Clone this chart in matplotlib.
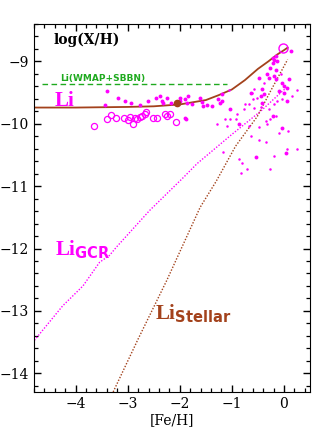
import matplotlib.pyplot as plt

plt.rcParams['font.family'] = 'DejaVu Serif'
plt.rcParams['mathtext.fontset'] = 'custom'
plt.rcParams['mathtext.bf'] = 'Liberation Serif:bold'
plt.rcParams['mathtext.sf'] = 'DejaVu Sans:bold'

# curvas do modelo
total_fe = [-4.8, -4.0, -3.0, -2.5, -2.0, -1.5, -1.25, -1.0, -0.75, -0.5, -0.3, -0.13, 0.0, 0.07]
total_li = [-9.74, -9.74, -9.73, -9.72, -9.69, -9.62, -9.54, -9.45, -9.30, -9.12, -9.00, -8.89, -8.82, -8.78]

gcr_fe = [-4.83, -4.25, -3.86, -3.54, -3.35, -3.22, -2.58, -1.93, -1.67, -1.0, -0.45, -0.06, 0.05]
gcr_li = [-13.51, -12.92, -12.60, -12.22, -12.11, -11.98, -11.39, -10.86, -10.64, -10.17, -9.80, -9.50, -9.42]

stellar_fe = [-3.28, -2.8, -2.25, -1.61, -1.30, -0.93, -0.51, -0.26, 0.07]
stellar_li = [-14.30, -13.45, -12.51, -11.34, -10.92, -10.36, -9.88, -9.48, -8.97]

# WMAP + SBBN
wmap_fe = [-4.64, -1.09]
wmap_li = [-9.37, -9.37]

# estrelas do halo (circulos abertos)
halo_open_fe = [-3.64, -3.40, -3.32, -3.22, -3.08, -3.00, -2.95, -2.90, -2.87, -2.77,
                -2.72, -2.67, -2.64, -2.51, -2.43, -2.29, -2.24, -2.18, -2.07, -2.82]
halo_open_li = [-10.03, -9.93, -9.86, -9.91, -9.91, -9.94, -9.89, -10.00, -9.91, -9.89,
                -9.87, -9.85, -9.81, -9.91, -9.90, -9.85, -9.87, -9.84, -9.97, -9.92]

# estrelas do halo (pontos cheios)
halo_fe = [-3.39, -3.43, -3.19, -3.06, -2.93, -2.77, -2.61, -2.46, -2.38, -2.35,
           -2.32, -2.25, -2.16, -2.00, -1.90, -1.87, -1.90, -1.88, -1.62, -1.58,
           -1.55, -1.47, -1.38, -1.26, -1.22, -1.04, -1.84, -1.77, -2.00, -1.19, -1.19]
halo_li = [-9.48, -9.70, -9.59, -9.64, -9.66, -9.70, -9.64, -9.59, -9.56, -9.64,
           -9.66, -9.59, -9.66, -9.64, -9.61, -9.66, -9.90, -9.93, -9.59, -9.65,
           -9.72, -9.70, -9.71, -9.61, -9.66, -9.77, -9.56, -9.69, -9.59, -9.64, -9.52]

# estrelas do disco
disk_fe = [-0.22, -0.19, -0.16, -0.21, -0.26, -0.16, -0.13, -0.32, -0.29, -0.19,
           -0.16, 0.10, -0.03, 0.00, 0.06, -0.10, 0.00, -0.42, -0.48, -0.39,
           0.13, -0.53, -0.03, 0.03, -0.87, -0.22, -0.64, -0.45, -0.42, 0.06]
disk_li = [-8.94, -8.98, -8.92, -9.02, -9.10, -9.13, -9.00, -9.21, -9.26, -9.24,
           -9.29, -9.29, -9.34, -9.40, -9.42, -9.48, -9.50, -9.45, -9.26, -9.53,
           -8.84, -10.54, -10.06, -10.47, -10.01, -9.88, -9.50, -9.56, -9.66, -9.64]

disk_small_fe = [-0.58, -0.61, 0.25, -1.06, -0.51, -0.74, -0.68, -0.77, -0.58, -0.45,
                 -0.29, -0.19, -0.13, -0.04, -1.03, -0.16, -0.26, -1.13, -1.03, -0.93,
                 -1.09, -0.68, -0.48, -0.32, -0.10, 0.07, -0.64, -0.48, -0.35, 0.26,
                 -1.29, -1.17, -0.87, -0.80, -0.71, -0.82, -0.27, -0.20, 0.05, -0.39,
                 -0.90, -0.60, -0.05, 0.15, -0.35]
disk_small_li = [-9.45, -9.50, -9.46, -9.46, -9.58, -9.69, -9.69, -9.77, -9.74, -9.73,
                 -9.77, -9.69, -9.64, -9.61, -9.77, -9.88, -9.93, -9.93, -9.93, -9.93,
                 -10.04, -10.04, -10.05, -10.01, -10.14, -10.12, -10.20, -10.26, -10.30, -10.41,
                 -10.01, -10.46, -10.56, -10.63, -10.72, -10.79, -10.72, -10.52, -10.40, -9.35,
                 -9.85, -9.60, -9.20, -9.55, -9.95]

sol_fe, sol_li = [-0.01], [-8.79]
media_fe, media_li = [-2.05], [-9.66]

magenta = '#ff00ff'
marrom = '#a3421c'
verde = '#1faa1f'

fig = plt.figure(figsize=(3.27, 4.36), dpi=100)
ax = fig.add_axes([0.104, 0.101, 0.844, 0.844])

ax.plot(gcr_fe, gcr_li, color=magenta, linestyle=(0, (1, 1.2)), linewidth=1.0)
ax.plot(stellar_fe, stellar_li, color=marrom, linestyle=(0, (1, 1.2)), linewidth=1.0)
ax.plot(wmap_fe, wmap_li, color=verde, linestyle=(0, (4, 2.5)), linewidth=1.0)
ax.plot(total_fe, total_li, color=marrom, linewidth=1.3)

ax.plot(halo_open_fe, halo_open_li, 'o', mfc='none', mec=magenta, ms=4.4, mew=0.9)
ax.plot(halo_fe, halo_li, 'o', color=magenta, ms=2.8, mew=0)
ax.plot(disk_fe, disk_li, 'o', color=magenta, ms=2.8, mew=0)
ax.plot(disk_small_fe, disk_small_li, 'o', color=magenta, ms=1.8, mew=0)
ax.plot(sol_fe, sol_li, 'o', mfc='none', mec=magenta, ms=6.5, mew=1.0)
ax.plot(media_fe, media_li, 'o', color=marrom, ms=5.5, mew=0)

ax.set_xlim(-4.8, 0.5)
ax.set_ylim(-14.3, -8.4)
ax.set_xticks([-4, -3, -2, -1, 0])
ax.set_yticks([-14, -13, -12, -11, -10, -9])
ax.set_xticks([x / 5 for x in range(-24, 3)], minor=True)
ax.set_yticks([y / 5 for y in range(-71, -41)], minor=True)
ax.tick_params(which='both', direction='in', top=True, right=True, labelsize=10)
ax.tick_params(which='major', length=5, width=1)
ax.tick_params(which='minor', length=3, width=0.9)
ax.set_xlabel('[Fe/H]', fontsize=10, labelpad=2)

ax.text(-4.42, -8.66, 'log(X/H)', fontsize=10, fontweight='bold', va='center')
ax.text(-4.3, -9.27, 'Li(WMAP+SBBN)', fontsize=6.5, fontweight='bold', color=verde,
        va='center', family='DejaVu Sans')
ax.text(-4.42, -9.63, r'$\mathbf{Li}$', fontsize=15, color=magenta, va='center')
ax.text(-4.4, -12.02, r'$\mathbf{Li}_{\mathsf{GCR}}$', fontsize=15, color=magenta, va='center')
ax.text(-2.47, -13.05, r'$\mathbf{Li}_{\mathsf{Stellar}}$', fontsize=15, color=marrom, va='center')

fig.savefig('out.png', dpi=100)
